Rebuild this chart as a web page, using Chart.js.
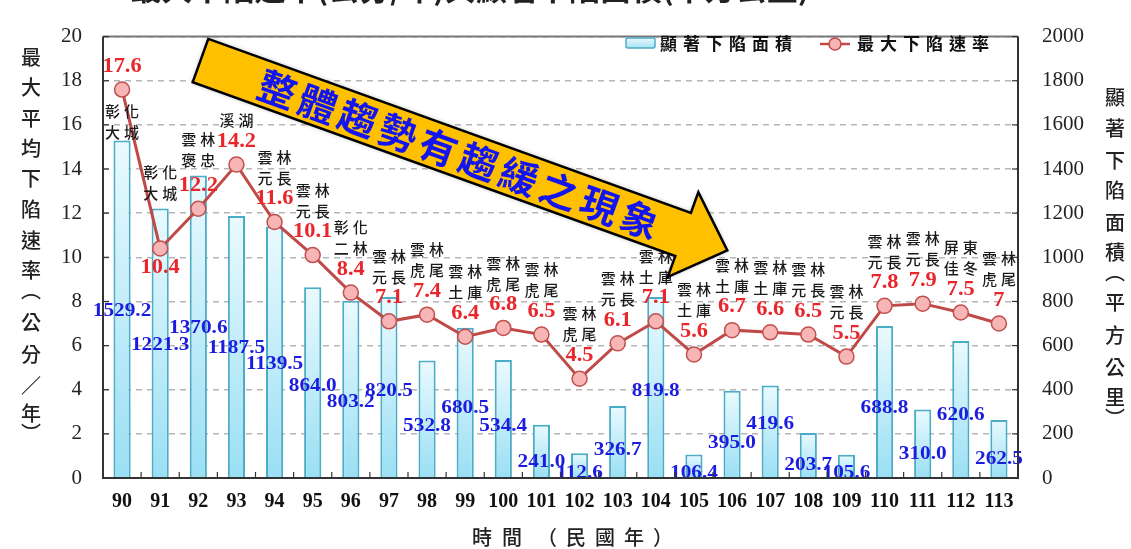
<!DOCTYPE html>
<html>
<head>
<meta charset="utf-8">
<script src="https://cdn.jsdelivr.net/npm/chart.js@4.4.1/dist/chart.umd.min.js"></script>
<style>
  html, body { margin: 0; padding: 0; background: #fff; }
  canvas { display: block; }
</style>
</head>
<body>
<canvas id="chart" width="1131" height="549"></canvas>
<script>
const years = ["90", "91", "92", "93", "94", "95", "96", "97", "98", "99", "100", "101",
  "102", "103", "104", "105", "106", "107", "108", "109", "110", "111", "112", "113"];

// 最大下陷速率 (公分/年)
const rateValues = [17.6, 10.4, 12.2, 14.2, 11.6, 10.1, 8.4, 7.1, 7.4, 6.4, 6.8, 6.5,
  4.5, 6.1, 7.1, 5.6, 6.7, 6.6, 6.5, 5.5, 7.8, 7.9, 7.5, 7];

// 顯著下陷面積 (平方公里)
const areaValues = [1529.2, 1221.3, 1370.6, 1187.5, 1139.5, 864.0, 803.2, 820.5, 532.8, 680.5, 534.4, 241.0,
  112.6, 326.7, 819.8, 106.4, 395.0, 419.6, 203.7, 105.6, 688.8, 310.0, 620.6, 262.5];

const locations = ["彰化大城", "彰化大城", "雲林褒忠", "溪湖", "雲林元長", "雲林元長", "彰化二林", "雲林元長",
  "雲林虎尾", "雲林土庫", "雲林虎尾", "雲林虎尾", "雲林虎尾", "雲林元長", "雲林土庫", "雲林土庫",
  "雲林土庫", "雲林土庫", "雲林元長", "雲林元長", "雲林元長", "雲林元長", "屏東佳冬", "雲林虎尾"];

// label placement (not data): where the blue area numbers sit on the right axis,
// and pixel offsets of the red rate numbers / place names from each point
const areaLabelAt = [755, 603, 677, 590, 515, 415, 345, 393, 236, 319, 236, 70,
  22, 127, 393, 22, 157, 242, 57, 22, 319, 109, 284, 87];
const rateLabelDy = years.map((_, i) => (i === 1 ? 19 : -23));
const placeLabelDy = years.map((_, i) => (i === 0 ? 43 : i === 1 ? -55 : i === 2 ? -48 : -44));

const SERIF = '"Liberation Serif", "Times New Roman", serif';
const CJK = '"Noto Sans CJK TC", "Noto Sans CJK SC", sans-serif';

function stretchText(ctx, text, x, y, font, color, sx) {
  ctx.save();
  ctx.translate(x, y);
  ctx.scale(sx, 1);
  ctx.font = font;
  ctx.fillStyle = color;
  ctx.textAlign = "center";
  ctx.textBaseline = "middle";
  ctx.fillText(text, 0, 0);
  ctx.restore();
}

function spacedText(ctx, text, cx, y, size, gap, font, color) {
  const chars = Array.from(text);
  const total = chars.length * size + (chars.length - 1) * gap;
  let x = cx - total / 2 + size / 2;
  ctx.font = font;
  ctx.fillStyle = color;
  ctx.textAlign = "center";
  ctx.textBaseline = "middle";
  chars.forEach((c) => {
    ctx.fillText(c, x, y);
    x += size + gap;
  });
}

const labelPlugin = {
  id: "pointLabels",
  afterDatasetsDraw(chart) {
    const ctx = chart.ctx;
    const xs = chart.scales.x, yRate = chart.scales.yRate, yArea = chart.scales.yArea;
    ctx.save();
    years.forEach((_, i) => {
      const x = xs.getPixelForValue(i);
      stretchText(ctx, areaValues[i].toFixed(1), x, yArea.getPixelForValue(areaLabelAt[i]),
        "bold 19px " + SERIF, "#1c1ce0", 1.12);
      const py = yRate.getPixelForValue(rateValues[i]);
      stretchText(ctx, String(rateValues[i]), x, py + rateLabelDy[i], "bold 20px " + SERIF, "#e8262b", 1.12);
      const lines = locations[i].match(/.{1,2}/g);
      lines.forEach((ln, k) => {
        const ly = py + placeLabelDy[i] - 21 * (lines.length - 1 - k);
        spacedText(ctx, ln, x, ly, 15, 4, "500 15px " + CJK, "#1a1a1a");
      });
    });
    ctx.restore();
  },
};

const decorPlugin = {
  id: "decor",
  afterDraw(chart) {
    const ctx = chart.ctx;
    const a = chart.chartArea;
    const yRate = chart.scales.yRate;
    ctx.save();

    // frame
    ctx.strokeStyle = "#777";
    ctx.lineWidth = 2;
    ctx.beginPath(); ctx.moveTo(a.left, a.top); ctx.lineTo(a.right, a.top); ctx.stroke();
    ctx.strokeStyle = "#333";
    ctx.beginPath();
    ctx.moveTo(a.left, a.top); ctx.lineTo(a.left, a.bottom); ctx.lineTo(a.right, a.bottom); ctx.lineTo(a.right, a.top);
    ctx.stroke();

    // small inward tick marks
    ctx.lineWidth = 1.2;
    const catW = (a.right - a.left) / years.length;
    for (let i = 1; i < years.length; i++) {
      const x = a.left + i * catW;
      ctx.beginPath(); ctx.moveTo(x, a.bottom); ctx.lineTo(x, a.bottom - 6); ctx.stroke();
    }
    yRate.ticks.forEach((t) => {
      const y = yRate.getPixelForValue(t.value);
      ctx.beginPath(); ctx.moveTo(a.left, y); ctx.lineTo(a.left + 6, y); ctx.stroke();
      ctx.beginPath(); ctx.moveTo(a.right, y); ctx.lineTo(a.right - 6, y); ctx.stroke();
    });

    // title, cut off by the top edge
    ctx.font = "bold 31px " + CJK;
    ctx.fillStyle = "#222";
    ctx.textAlign = "center";
    ctx.textBaseline = "middle";
    ctx.fillText("最大下陷速率(公分/年)與顯著下陷面積(平方公里)", 470, -12);

    // axis titles
    const leftGlyphs = ["最", "大", "平", "均", "下", "陷", "速", "率", "︵", "公", "分", "／", "年", "︶"];
    const leftY = [57, 87, 118, 148, 178, 209, 240, 270, 290, 322, 354, 385, 413, 433];
    ctx.font = "500 20px " + CJK;
    ctx.fillStyle = "#222";
    leftGlyphs.forEach((g, i) => ctx.fillText(g, 31, leftY[i]));
    const rightGlyphs = ["顯", "著", "下", "陷", "面", "積", "︵", "平", "方", "公", "里", "︶"];
    const rightY = [97, 128, 160, 190, 222, 252, 272, 302, 335, 367, 397, 418];
    rightGlyphs.forEach((g, i) => ctx.fillText(g, 1115, rightY[i]));
    spacedText(ctx, "時間", 497, 537, 20, 10, "500 20px " + CJK, "#222");
    spacedText(ctx, "（民國年）", 605, 537, 20, 9, "500 20px " + CJK, "#222");

    // legend
    const lg = ctx.createLinearGradient(0, 38, 0, 48);
    lg.addColorStop(0, "#e8f8fd");
    lg.addColorStop(1, "#a8e2f4");
    ctx.fillStyle = lg;
    ctx.strokeStyle = "#4bacc6";
    ctx.lineWidth = 1.5;
    ctx.beginPath(); ctx.roundRect(626, 38, 29, 10, 2); ctx.fill(); ctx.stroke();
    ctx.textAlign = "left";
    ctx.font = "bold 17px " + CJK;
    ctx.fillStyle = "#111";
    Array.from("顯著下陷面積").forEach((c, i) => ctx.fillText(c, 660 + i * 23, 44));
    ctx.strokeStyle = "#bf4a47";
    ctx.lineWidth = 2.5;
    ctx.beginPath(); ctx.moveTo(820, 44); ctx.lineTo(850, 44); ctx.stroke();
    ctx.fillStyle = "#f6b3b3";
    ctx.lineWidth = 1.5;
    ctx.beginPath(); ctx.arc(835, 44, 6, 0, Math.PI * 2); ctx.fill(); ctx.stroke();
    ctx.fillStyle = "#111";
    Array.from("最大下陷速率").forEach((c, i) => ctx.fillText(c, 857 + i * 23, 44));

    // trend arrow annotation
    const ang = Math.atan2(190, 527);
    ctx.translate(200.5, 60.5);
    ctx.rotate(ang);
    ctx.beginPath();
    ctx.moveTo(0, -23); ctx.lineTo(513, -23); ctx.lineTo(513, -45); ctx.lineTo(560, 0);
    ctx.lineTo(513, 45); ctx.lineTo(513, 23); ctx.lineTo(0, 23); ctx.closePath();
    ctx.shadowColor = "rgba(90,90,90,0.5)";
    ctx.shadowBlur = 5;
    ctx.fillStyle = "#ffc000";
    ctx.fill();
    ctx.shadowColor = "transparent";
    ctx.strokeStyle = "#000";
    ctx.lineWidth = 2.5;
    ctx.lineJoin = "miter";
    ctx.stroke();
    ctx.font = "bold 38px " + CJK;
    ctx.fillStyle = "#1414ee";
    ctx.textAlign = "center";
    ctx.textBaseline = "middle";
    Array.from("整體趨勢有趨緩之現象").forEach((c, i) => ctx.fillText(c, 82 + i * 42.8, 1));
    ctx.restore();
  },
};

function barFill(context) {
  const chart = context.chart;
  const a = chart.chartArea;
  if (!a || context.raw == null) return "#c6eef9";
  const top = chart.scales.yArea.getPixelForValue(context.raw);
  const g = chart.ctx.createLinearGradient(0, top, 0, a.bottom);
  g.addColorStop(0, "#eafafe");
  g.addColorStop(1, "#9adff4");
  return g;
}

new Chart(document.getElementById("chart"), {
  type: "bar",
  data: {
    labels: years,
    datasets: [
      {
        type: "line",
        label: "最大下陷速率",
        data: rateValues,
        yAxisID: "yRate",
        order: 0,
        borderColor: "#bf4a47",
        borderWidth: 3,
        tension: 0,
        pointRadius: 7.5,
        pointBackgroundColor: "#f7b5b5",
        pointBorderColor: "#c0504d",
        pointBorderWidth: 1.5,
      },
      {
        type: "bar",
        label: "顯著下陷面積",
        data: areaValues,
        yAxisID: "yArea",
        order: 1,
        backgroundColor: barFill,
        borderColor: "#4bacc6",
        borderWidth: 2,
        categoryPercentage: 1,
        barPercentage: 0.45,
      },
    ],
  },
  options: {
    responsive: false,
    animation: false,
    devicePixelRatio: 1,
    layout: { padding: { top: 20, left: 0, right: 0, bottom: 0 } },
    plugins: {
      legend: { display: false },
      tooltip: { enabled: false },
    },
    scales: {
      x: {
        offset: true,
        grid: { display: false, drawTicks: false },
        border: { display: false },
        ticks: {
          color: "#111",
          font: { family: SERIF, size: 20, weight: "bold" },
          padding: 12,
          maxRotation: 0,
          autoSkip: false,
        },
        afterFit: (s) => { s.height = 71; },
      },
      yRate: {
        position: "left",
        min: 0,
        max: 20,
        ticks: { stepSize: 2, color: "#222", font: { family: SERIF, size: 21 }, padding: 21 },
        grid: { color: "#b5b5b5", lineWidth: 1.5, drawTicks: false },
        border: { display: false, dash: [6, 5] },
        afterFit: (s) => { s.width = 103; },
      },
      yArea: {
        position: "right",
        min: 0,
        max: 2000,
        ticks: {
          stepSize: 200,
          color: "#222",
          font: { family: SERIF, size: 21 },
          padding: 24,
          callback: (v) => String(v),
        },
        grid: { drawOnChartArea: false, drawTicks: false },
        border: { display: false },
        afterFit: (s) => { s.width = 113; },
      },
    },
  },
  plugins: [labelPlugin, decorPlugin],
});
</script>
</body>
</html>
